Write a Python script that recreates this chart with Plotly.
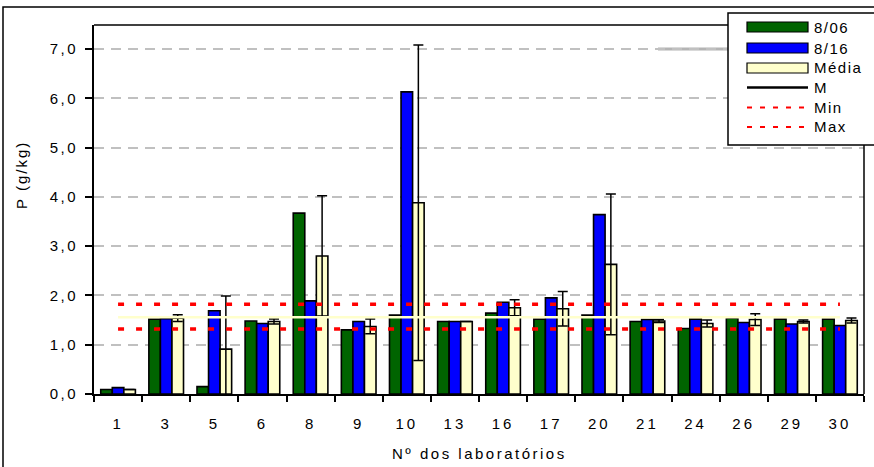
import plotly.graph_objects as go

# Laboratory codes (x categories)
labs = ["1", "3", "5", "6", "8", "9", "10", "13", "16", "17", "20", "21", "24", "26", "29", "30"]

# P content (g/kg) per laboratory
p_806 = [0.09, 1.52, 0.15, 1.48, 3.67, 1.30, 1.60, 1.47, 1.64, 1.52, 1.60, 1.47, 1.33, 1.54, 1.52, 1.52]
p_816 = [0.13, 1.53, 1.69, 1.43, 1.89, 1.47, 6.13, 1.47, 1.86, 1.95, 3.64, 1.51, 1.52, 1.45, 1.42, 1.39]
p_media = [0.09, 1.54, 0.91, 1.47, 2.80, 1.37, 3.88, 1.47, 1.75, 1.73, 2.63, 1.48, 1.43, 1.51, 1.47, 1.49]
p_media_err = [None, 0.07, 1.08, 0.05, 1.22, 0.15, 3.20, None, 0.16, 0.35, 1.43, 0.03, 0.07, 0.12, 0.03, 0.05]

# Reference levels
m_value = 1.555
min_value = 1.32
max_value = 1.82

# Y axis ticks
y_ticks = [0, 1, 2, 3, 4, 5, 6, 7]
y_tick_labels = ["0,0", "1,0", "2,0", "3,0", "4,0", "5,0", "6,0", "7,0"]

series_names = ["8/06", "8/16", "Média", "M", "Min", "Max"]

GREEN = "#006400"
BLUE = "#0000FF"
CREAM = "#FFFFCC"
FONT = "Liberation Sans, Arial, sans-serif"

# plot box in pixels
W, H = 874, 467
L, R, T, B = 94, 10, 25, 73
PW, PH = W - L - R, H - T - B


def px_x(x):
    return (x - L) / PW


def px_y(y):
    return (H - B - y) / PH


def spaced(t, sp=3):
    return f'<span style="letter-spacing:{sp}px">{t}</span>'


bar_line = dict(color="black", width=1.6)

fig = go.Figure()
fig.add_trace(go.Bar(x=labs, y=p_806, name=series_names[0],
                     marker=dict(color=GREEN, line=bar_line)))
fig.add_trace(go.Bar(x=labs, y=p_816, name=series_names[1],
                     marker=dict(color=BLUE, line=bar_line)))
fig.add_trace(go.Bar(x=labs, y=p_media, name=series_names[2],
                     marker=dict(color=CREAM, line=bar_line),
                     error_y=dict(type="data", array=p_media_err, visible=True,
                                  color="black", thickness=1.5, width=5)))

# horizontal reference lines from first to last laboratory
ends = [labs[0], labs[-1]]
fig.add_trace(go.Scatter(x=ends, y=[m_value, m_value], mode="lines", name=series_names[3],
                         line=dict(color=CREAM, width=2.5)))
fig.add_trace(go.Scatter(x=ends, y=[min_value, min_value], mode="lines", name=series_names[4],
                         line=dict(color="#FF0000", width=3.5, dash="6px,12px")))
fig.add_trace(go.Scatter(x=ends, y=[max_value, max_value], mode="lines", name=series_names[5],
                         line=dict(color="#FF0000", width=3.5, dash="6px,12px")))

shapes = []
annotations = []

# outer chart frame
shapes.append(dict(type="rect", xref="paper", yref="paper",
                   x0=px_x(3), x1=px_x(880), y0=px_y(475), y1=px_y(7),
                   line=dict(color="black", width=1.5), fillcolor="rgba(0,0,0,0)", layer="above"))
# plot area frame (top and right)
shapes.append(dict(type="line", xref="paper", yref="paper", x0=0, x1=1, y0=1, y1=1,
                   line=dict(color="black", width=1.5), layer="above"))
shapes.append(dict(type="line", xref="paper", yref="paper", x0=1, x1=1, y0=0, y1=1,
                   line=dict(color="black", width=1.5), layer="above"))
# solid grey segment on the top gridline
shapes.append(dict(type="line", xref="paper", yref="y", x0=px_x(658), x1=px_x(728), y0=7, y1=7,
                   line=dict(color="#B4B4B4", width=3), layer="below"))

# legend box
shapes.append(dict(type="rect", xref="paper", yref="paper",
                   x0=px_x(728), x1=px_x(890), y0=px_y(145), y1=px_y(13),
                   line=dict(color="black", width=1.5), fillcolor="white", layer="above"))

row_y = [27, 48, 68, 87.5, 107.5, 127]
sw_x0, sw_x1, txt_x = 747, 808, 812
swatch_colors = [GREEN, BLUE, CREAM]
for i, name in enumerate(series_names):
    yc = row_y[i]
    if i < 3:
        shapes.append(dict(type="rect", xref="paper", yref="paper",
                           x0=px_x(sw_x0), x1=px_x(sw_x1), y0=px_y(yc + 5), y1=px_y(yc - 5),
                           line=dict(color="black", width=1.2), fillcolor=swatch_colors[i],
                           layer="above"))
    elif i == 3:
        shapes.append(dict(type="line", xref="paper", yref="paper",
                           x0=px_x(sw_x0), x1=px_x(sw_x1), y0=px_y(yc), y1=px_y(yc),
                           line=dict(color="black", width=2.5), layer="above"))
    else:
        shapes.append(dict(type="line", xref="paper", yref="paper",
                           x0=px_x(sw_x0), x1=px_x(sw_x1), y0=px_y(yc), y1=px_y(yc),
                           line=dict(color="#FF0000", width=2, dash="5px,8px"), layer="above"))
    annotations.append(dict(xref="paper", yref="paper", x=px_x(txt_x), y=px_y(yc),
                            xanchor="left", yanchor="middle", showarrow=False,
                            text=spaced(name, 1.5), font=dict(family=FONT, size=15, color="black")))

# axis titles
annotations.append(dict(xref="paper", yref="paper", x=px_x(480), y=px_y(453),
                        xanchor="center", yanchor="middle", showarrow=False,
                        text=spaced("Nº dos laboratórios", 2.5),
                        font=dict(family=FONT, size=15, color="black")))
annotations.append(dict(xref="paper", yref="paper", x=px_x(21), y=px_y(175),
                        xanchor="center", yanchor="middle", showarrow=False, textangle=-90,
                        text=spaced("P (g/kg)", 2),
                        font=dict(family=FONT, size=15, color="black")))

fig.update_layout(
    width=W, height=H,
    margin=dict(l=L, r=R, t=T, b=B),
    paper_bgcolor="white", plot_bgcolor="white",
    barmode="group", bargap=0.28, bargroupgap=0,
    showlegend=False,
    font=dict(family=FONT, size=15, color="black"),
    shapes=shapes, annotations=annotations,
    xaxis=dict(type="category", tickvals=labs, ticktext=[spaced(t) for t in labs],
               showline=True, linecolor="black", linewidth=2,
               ticks="outside", tickson="boundaries", ticklen=6, tickwidth=1.5, tickcolor="black",
               ticklabelstandoff=15, showgrid=False, zeroline=False,
               range=[-0.5, len(labs) - 0.5]),
    yaxis=dict(range=[0, PH / 49.29], tickvals=y_ticks, ticktext=[spaced(t, 2.5) for t in y_tick_labels],
               showline=True, linecolor="black", linewidth=2,
               ticks="outside", ticklen=7, tickwidth=1.5, tickcolor="black",
               ticklabelstandoff=4,
               showgrid=True, gridcolor="#C0C0C0", gridwidth=2, griddash="10px,7px",
               zeroline=False),
)

fig.write_html("out.html")
